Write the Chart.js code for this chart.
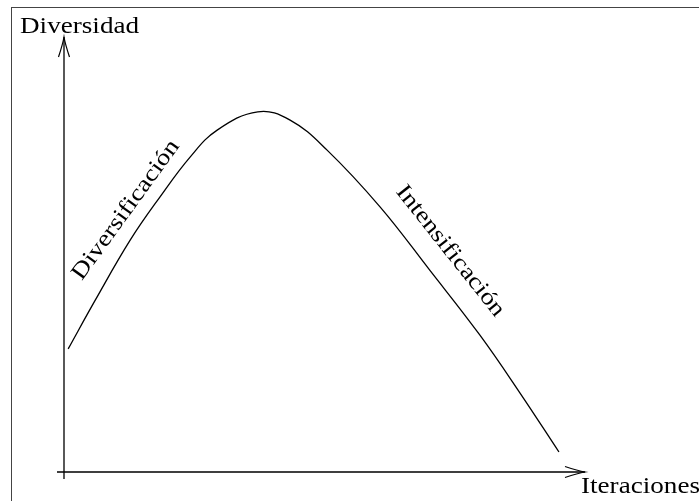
<!DOCTYPE html>
<html>
<head>
<meta charset="utf-8">
<script src="https://cdn.jsdelivr.net/npm/chart.js@4/dist/chart.umd.min.js"></script>
<style>
  html, body { margin: 0; padding: 0; background: #fff; }
  canvas { display: block; }
</style>
</head>
<body>
<canvas id="c" width="699" height="501"></canvas>
<script>
// ---- data ----
const iterations = [0.08, 0.60, 1.27, 1.84, 2.42, 2.94, 3.72, 4.34, 5.05, 6.07, 7.02, 7.98, 8.75, 9.50];
const diversity  = [2.83, 3.95, 5.33, 6.32, 7.24, 7.86, 8.28, 8.09, 7.40, 6.09, 4.64, 3.15, 1.82, 0.46];
const axisTitles = ["Iteraciones", "Diversidad"];
const phaseLabels = ["Diversificación", "Intensificación"];
const phaseAnchorsX = [1.19, 7.41];
const phaseAnchorsY = [6.02, 5.08];
const phaseAngles = [-54, 51.5];

const points = iterations.map((x, i) => ({ x: x, y: diversity[i] }));

const FONT = '23px "Liberation Serif", "DejaVu Serif", serif';
const STRETCH = 1.18;

function drawArrowHead(ctx, tx, ty, dirx, diry) {
  const L = 20, W = 5.5;
  const px = -diry, py = dirx;
  const bx = tx - dirx * L, by = ty - diry * L;
  ctx.beginPath();
  ctx.moveTo(bx + px * W, by + py * W);
  ctx.quadraticCurveTo(tx - dirx * L * 0.35 + px * 1.2, ty - diry * L * 0.35 + py * 1.2, tx, ty);
  ctx.quadraticCurveTo(tx - dirx * L * 0.35 - px * 1.2, ty - diry * L * 0.35 - py * 1.2, bx - px * W, by - py * W);
  ctx.stroke();
}

function stretchedText(ctx, text, x, y, angleDeg, align, baseline) {
  ctx.save();
  ctx.translate(x, y);
  ctx.rotate(angleDeg * Math.PI / 180);
  ctx.scale(STRETCH, 1);
  ctx.font = FONT;
  ctx.textAlign = align;
  ctx.textBaseline = baseline;
  ctx.fillText(text, 0, 0);
  ctx.restore();
}

const decor = {
  id: 'decor',
  beforeDatasetsDraw(chart) {
    const ctx = chart.ctx;
    const xs = chart.scales.x, ys = chart.scales.y;
    const ca = chart.chartArea;
    const ox = xs.getPixelForValue(0), oy = ys.getPixelForValue(0);
    ctx.save();
    ctx.strokeStyle = '#444';
    ctx.lineWidth = 1;
    ctx.strokeRect(11.5, 7.5, 760, 560);
    ctx.strokeStyle = '#000';
    ctx.lineWidth = 1.3;
    ctx.beginPath();
    ctx.moveTo(ox, oy + 7);
    ctx.lineTo(ox, ca.top);
    ctx.moveTo(ox - 7, oy);
    ctx.lineTo(ca.right, oy);
    ctx.stroke();
    ctx.lineWidth = 1.2;
    drawArrowHead(ctx, ox, ca.top, 0, -1);
    drawArrowHead(ctx, ca.right, oy, 1, 0);
    ctx.restore();
  },
  afterDatasetsDraw(chart) {
    const ctx = chart.ctx;
    const xs = chart.scales.x, ys = chart.scales.y;
    const ca = chart.chartArea;
    const ox = xs.getPixelForValue(0), oy = ys.getPixelForValue(0);
    ctx.save();
    ctx.fillStyle = '#000';
    stretchedText(ctx, axisTitles[1], ox - 44, ca.top - 4, 0, 'left', 'alphabetic');
    stretchedText(ctx, axisTitles[0], ca.right - 4, oy + 21, 0, 'left', 'alphabetic');
    for (let i = 0; i < phaseLabels.length; i++) {
      const px = xs.getPixelForValue(phaseAnchorsX[i]);
      const py = ys.getPixelForValue(phaseAnchorsY[i]);
      stretchedText(ctx, phaseLabels[i], px, py, phaseAngles[i], 'center', 'middle');
    }
    ctx.restore();
  }
};

function build() {
  new Chart(document.getElementById('c'), {
    type: 'line',
    data: {
      datasets: [{
        data: points,
        borderColor: '#000',
        borderWidth: 1.3,
        pointRadius: 0,
        fill: false,
        tension: 0.4
      }]
    },
    options: {
      responsive: false,
      animation: false,
      devicePixelRatio: 1,
      layout: { padding: { left: 64, right: 114, top: 37, bottom: 29 } },
      plugins: { legend: { display: false }, tooltip: { enabled: false } },
      scales: {
        x: { type: 'linear', min: 0, max: 10, display: false },
        y: { type: 'linear', min: 0, max: 10, display: false }
      }
    },
    plugins: [decor]
  });
}

if (document.fonts && document.fonts.load) {
  document.fonts.load(FONT, 'Diversidad').then(build, build);
} else {
  build();
}
</script>
</body>
</html>
